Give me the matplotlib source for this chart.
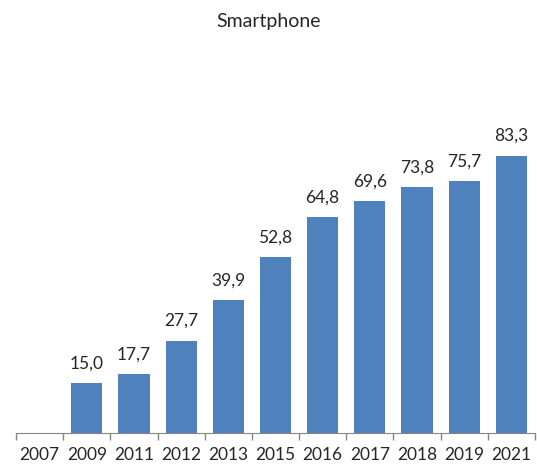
import numpy as np
import matplotlib.pyplot as plt

years = ['2007', '2009', '2011', '2012', '2013', '2015', '2016', '2017', '2018', '2019', '2021']
values = [0.0, 15.0, 17.7, 27.7, 39.9, 52.8, 64.8, 69.6, 73.8, 75.7, 83.3]

plt.rcParams['font.family'] = ['Lato', 'DejaVu Sans']

fig = plt.figure(figsize=(5.37, 4.66), dpi=100)
ax = fig.add_axes([0.030, 0.071, 0.966, 0.714])

x = np.arange(len(years))
bars = ax.bar(x, values, width=0.66, color='#4f81bd')

# value labels with comma decimals, skip the empty first year
for xi, v in zip(x, values):
    if v > 0:
        ax.text(xi, v + 3.5, f'{v:.1f}'.replace('.', ','), ha='center', va='bottom',
                fontsize=12.5, color='#262626')

ax.set_xlim(-0.5, len(years) - 0.5)
ax.set_ylim(0, 100)
ax.set_xticks(x)
ax.set_xticklabels(years, fontsize=12.5, color='#262626')
ax.tick_params(axis='x', which='major', length=0, pad=10)
ax.set_xticks(np.arange(-0.5, len(years)), minor=True)
ax.tick_params(axis='x', which='minor', length=5, color='#868686', width=1)
ax.set_yticks([])

for side in ['top', 'right', 'left']:
    ax.spines[side].set_visible(False)
ax.spines['bottom'].set_color('#868686')

fig.text(0.5, 0.953, 'Smartphone', ha='center', va='center', fontsize=14, color='#262626')

fig.savefig('out.png', dpi=100)
